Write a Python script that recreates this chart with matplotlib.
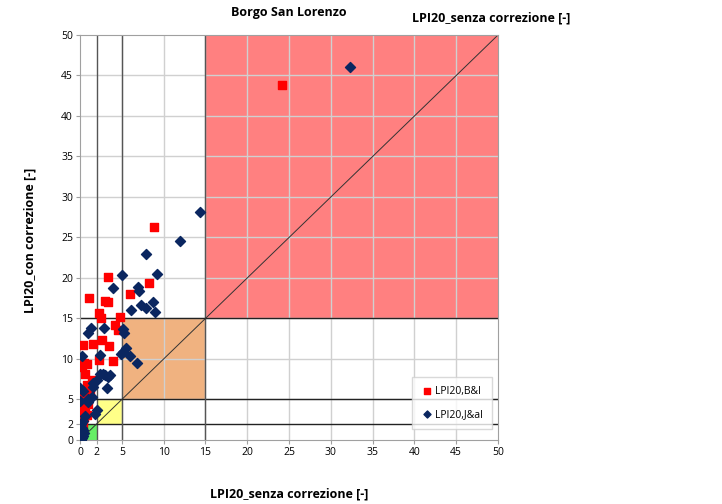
import matplotlib.pyplot as plt
from matplotlib.patches import Rectangle

plt.rcParams['font.family'] = ['Open Sans', 'DejaVu Sans']

# LPI20 values (x = senza correzione, y = con correzione)
bi_x = [24.2, 8.9, 8.3, 3.3, 6.0, 1.1, 3.0, 3.3, 2.3, 2.5, 4.8, 4.2, 4.5, 2.6, 1.5, 0.3,
        3.5, 2.3, 4.0, 0.5, 0.8, 0.2, 0.6, 1.4, 0.8, 0.2, 1.2, 0.4, 0.1, 0.6, 0.8, 0.2,
        0.4, 0.1, 0.0, 0.3, 1.0, 0.5]
bi_y = [43.8, 26.3, 19.4, 20.1, 18.0, 17.5, 17.2, 17.0, 15.7, 15.1, 15.2, 14.2, 13.6, 12.3, 11.9, 11.7,
        11.6, 9.9, 9.8, 9.5, 9.4, 9.0, 8.2, 7.4, 6.8, 5.8, 6.2, 4.9, 4.1, 3.7, 3.1, 2.5,
        1.9, 1.0, 5.2, 3.3, 4.4, 2.8]

ja_x = [32.3, 14.3, 12.0, 7.9, 9.2, 5.0, 4.0, 6.9, 7.1, 8.7, 7.3, 7.9, 6.1, 9.0, 1.3, 0.9,
        2.9, 5.1, 5.3, 5.5, 5.2, 4.9, 6.0, 6.8, 2.4, 0.2, 2.4, 2.8, 3.0, 3.4, 3.6, 2.0,
        1.6, 3.2, 1.4, 1.0, 0.0, 0.4, 2.0, 1.8, 0.1, 0.2, 0.3, 0.1, 0.4, 0.2, 0.1, 0.5,
        0.3, 0.6, 0.0, 1.5, 0.9]
ja_y = [46.0, 28.2, 24.6, 23.0, 20.5, 20.4, 18.8, 18.9, 18.4, 17.0, 16.7, 16.3, 16.0, 15.8, 13.8, 13.2,
        13.8, 13.7, 13.2, 11.3, 10.9, 10.6, 10.4, 9.5, 10.5, 10.4, 8.2, 8.1, 8.0, 7.8, 8.0, 7.4,
        7.0, 6.4, 5.3, 5.1, 6.4, 6.0, 3.7, 3.2, 2.0, 1.5, 1.2, 0.8, 0.5, 0.2, 0.0, 0.9,
        2.4, 3.0, 4.8, 6.6, 4.7]

ticks = [0, 2, 5, 10, 15, 20, 25, 30, 35, 40, 45, 50]
limits = [2, 5, 15, 50]
zone_colors = ['#66ee66', '#ffff88', '#f0b280', '#ff8080']

fig = plt.figure(figsize=(7.22, 5.04), dpi=100)
ax = fig.add_axes([0.1108, 0.127, 0.579, 0.8036])

# coloured class squares
lo = 0
for hi, c in zip(limits, zone_colors):
    ax.add_patch(Rectangle((lo, lo), hi - lo, hi - lo, facecolor=c, edgecolor='none', zorder=0))
    lo = hi

ax.set_xlim(0, 50)
ax.set_ylim(0, 50)
ax.set_xticks(ticks)
ax.set_yticks(ticks)
for t in range(5, 50, 5):
    ax.axvline(t, color='#d0d0d0', lw=1, zorder=0.5)
    ax.axhline(t, color='#d0d0d0', lw=1, zorder=0.5)
for t in limits[:3]:
    ax.axvline(t, color='#555555', lw=1, zorder=1)
    ax.axhline(t, color='#222222', lw=1, zorder=1)
ax.plot([0, 50], [0, 50], color='#333333', lw=0.7, zorder=1)

ax.scatter(bi_x, bi_y, marker='s', s=40, color='#ff0000', zorder=3, label='LPI20,B&I')
ax.scatter(ja_x, ja_y, marker='D', s=26, color='#0a2660', zorder=4, label='LPI20,J&al')

for s in ax.spines.values():
    s.set_color('#a0a0a0')
ax.tick_params(labelsize=7.5, length=3, color='#a0a0a0', pad=2)

ax.set_xlabel('LPI20_senza correzione [-]', fontsize=9, fontweight='bold', va='center')
ax.xaxis.set_label_coords(0.5, -0.133)
ax.set_ylabel('LPI20_con correzione [-]', fontsize=9, fontweight='bold', va='center')
ax.yaxis.set_label_coords(-0.12, 0.494)
ax.set_title('Borgo San Lorenzo', fontsize=9, fontweight='bold', pad=14)
fig.text(0.68, 0.965, 'LPI20_senza correzione [-]', fontsize=9, fontweight='bold', ha='center', va='center')

leg = ax.legend(loc='lower right', bbox_to_anchor=(0.985, 0.027), fontsize=7.5, frameon=True,
                fancybox=False, edgecolor='#d0d0d0', handletextpad=0.1, handlelength=1.2,
                labelspacing=1.1, borderpad=0.9, borderaxespad=0, markerscale=0.7)
leg.get_frame().set_linewidth(1)

fig.savefig('out.png', dpi=100)
